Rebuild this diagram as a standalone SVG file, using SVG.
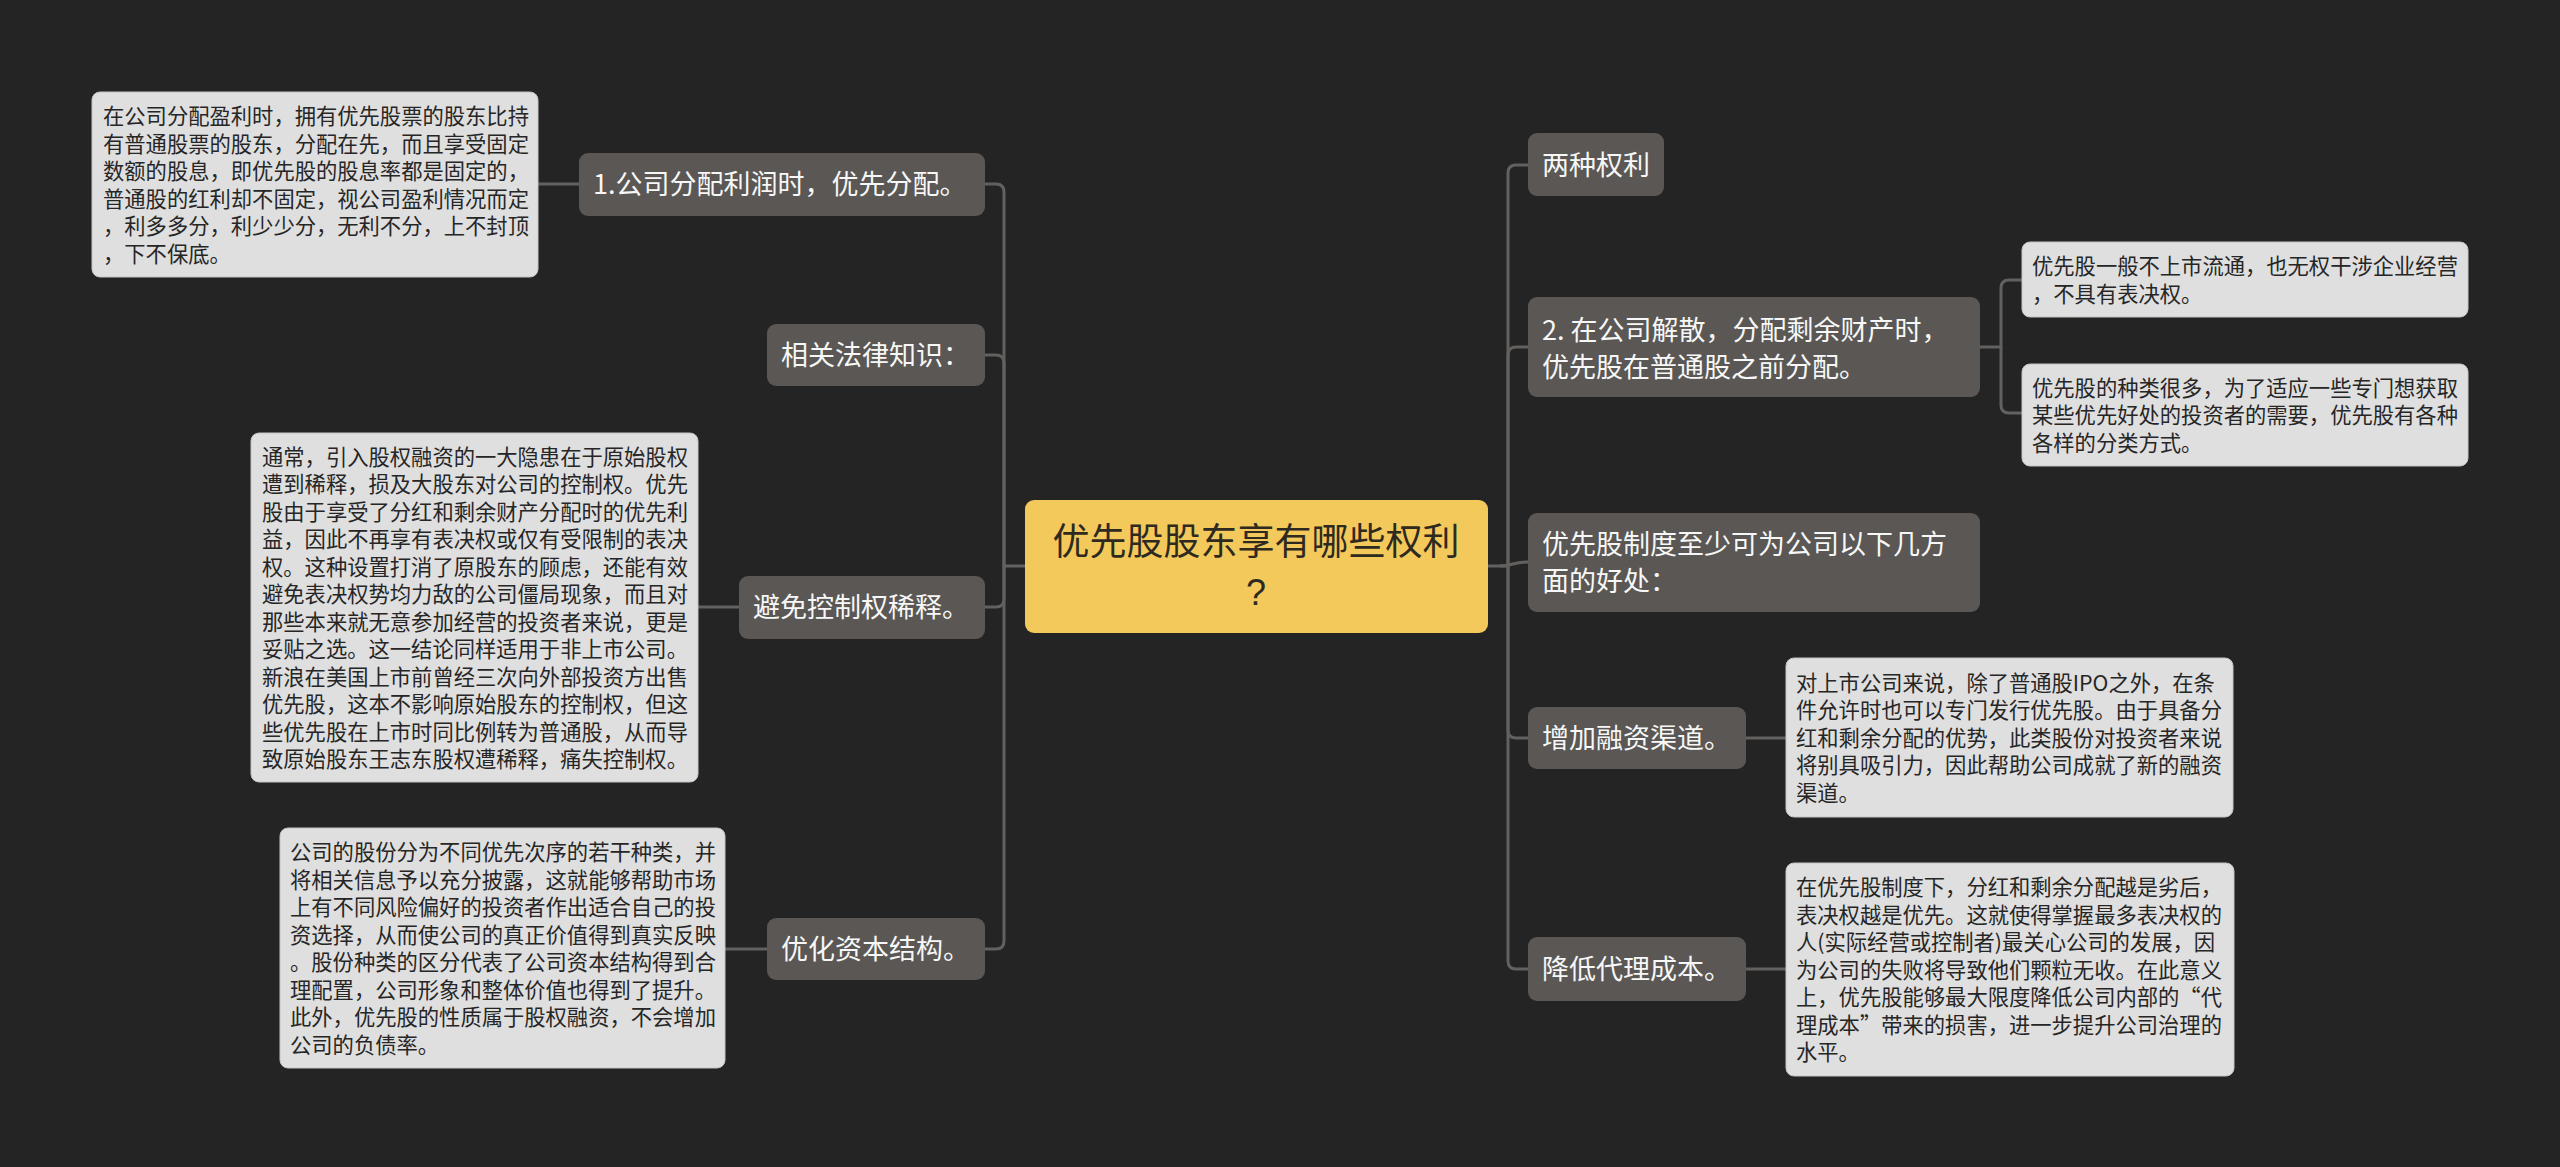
<svg xmlns="http://www.w3.org/2000/svg" width="2560" height="1167" viewBox="0 0 2560 1167">
<style>
.bg{fill:#242424}
.node rect{fill:#5a5755}
.node text{fill:#f7f7f7;font-family:"Noto Sans CJK SC","Noto Sans",sans-serif;font-size:27px}
.leaf rect{fill:#dfdfdf;stroke:#c4c4c4;stroke-width:1}
.leaf text{fill:#262626;font-family:"Noto Sans CJK SC","Noto Sans",sans-serif;font-size:21.3px}
.root rect{fill:#f4c95b}
.root text{fill:#2e2a1f;font-family:"Noto Sans CJK SC","Noto Sans",sans-serif;font-size:37px}
.root text.q{font-family:"Liberation Sans",Arial,sans-serif;font-size:36px}
.conn path{fill:none;stroke:#63615f;stroke-width:3}
</style>
<rect class="bg" x="0" y="0" width="2560" height="1167"/>
<g class="conn" id="connectors">
<path d="M1025 566 H1004 V192 Q1004 184 996 184 H985"/>
<path d="M1004 566 V363 Q1004 355 996 355 H985"/>
<path d="M1004 566 V599 Q1004 607 996 607 H985"/>
<path d="M1004 566 V941 Q1004 949 996 949 H985"/>
<path d="M1488 566 H1508 V173 Q1508 165 1516 165 H1528"/>
<path d="M1508 566 V355 Q1508 347 1516 347 H1528"/>
<path d="M1500 566 C1512 566 1512 562 1528 562"/>
<path d="M1508 566 V730 Q1508 738 1516 738 H1528"/>
<path d="M1508 566 V961 Q1508 969 1516 969 H1528"/>
<path d="M579 184 H538"/>
<path d="M739 607 H698"/>
<path d="M767 949 H725"/>
<path d="M1980 347 H2001 V288 Q2001 280 2009 280 H2022"/>
<path d="M2001 347 V405 Q2001 413 2009 413 H2022"/>
<path d="M1746 738 H1786"/>
<path d="M1746 969 H1786"/>
</g>
<g class="root" id="root">
<rect x="1025" y="500" width="463" height="133" rx="9"/>
<text x="1256" y="555" text-anchor="middle">优先股股东享有哪些权利</text>
<text class="q" x="1256" y="605" text-anchor="middle">?</text>
</g>
<g class="node" id="n1">
<rect x="579" y="153" width="406" height="63" rx="9"/>
<text x="593" y="194">1.公司分配利润时，优先分配。</text>
</g>
<g class="leaf" id="l1">
<rect x="92" y="92" width="446" height="185" rx="8"/>
<text x="103" y="124">在公司分配盈利时，拥有优先股票的股东比持</text>
<text x="103" y="151.5">有普通股票的股东，分配在先，而且享受固定</text>
<text x="103" y="179">数额的股息，即优先股的股息率都是固定的，</text>
<text x="103" y="206.5">普通股的红利却不固定，视公司盈利情况而定</text>
<text x="103" y="234">，利多多分，利少少分，无利不分，上不封顶</text>
<text x="103" y="261.5">，下不保底。</text>
</g>
<g class="node" id="n2">
<rect x="767" y="324" width="218" height="62" rx="9"/>
<text x="781" y="365">相关法律知识：</text>
</g>
<g class="node" id="n3">
<rect x="739" y="576" width="246" height="63" rx="9"/>
<text x="753" y="617">避免控制权稀释。</text>
</g>
<g class="leaf" id="l3">
<rect x="251" y="433" width="447" height="349" rx="8"/>
<text x="262" y="464.5">通常，引入股权融资的一大隐患在于原始股权</text>
<text x="262" y="492">遭到稀释，损及大股东对公司的控制权。优先</text>
<text x="262" y="519.5">股由于享受了分红和剩余财产分配时的优先利</text>
<text x="262" y="547">益，因此不再享有表决权或仅有受限制的表决</text>
<text x="262" y="574.5">权。这种设置打消了原股东的顾虑，还能有效</text>
<text x="262" y="602">避免表决权势均力敌的公司僵局现象，而且对</text>
<text x="262" y="629.5">那些本来就无意参加经营的投资者来说，更是</text>
<text x="262" y="657">妥贴之选。这一结论同样适用于非上市公司。</text>
<text x="262" y="684.5">新浪在美国上市前曾经三次向外部投资方出售</text>
<text x="262" y="712">优先股，这本不影响原始股东的控制权，但这</text>
<text x="262" y="739.5">些优先股在上市时同比例转为普通股，从而导</text>
<text x="262" y="767">致原始股东王志东股权遭稀释，痛失控制权。</text>
</g>
<g class="node" id="n4">
<rect x="767" y="918" width="218" height="62" rx="9"/>
<text x="781" y="959">优化资本结构。</text>
</g>
<g class="leaf" id="l4">
<rect x="280" y="828" width="445" height="240" rx="8"/>
<text x="290" y="860">公司的股份分为不同优先次序的若干种类，并</text>
<text x="290" y="887.5">将相关信息予以充分披露，这就能够帮助市场</text>
<text x="290" y="915">上有不同风险偏好的投资者作出适合自己的投</text>
<text x="290" y="942.5">资选择，从而使公司的真正价值得到真实反映</text>
<text x="290" y="970">。股份种类的区分代表了公司资本结构得到合</text>
<text x="290" y="997.5">理配置，公司形象和整体价值也得到了提升。</text>
<text x="290" y="1025">此外，优先股的性质属于股权融资，不会增加</text>
<text x="290" y="1052.5">公司的负债率。</text>
</g>
<g class="node" id="n5">
<rect x="1528" y="133" width="136" height="63" rx="9"/>
<text x="1542" y="175">两种权利</text>
</g>
<g class="node" id="n6">
<rect x="1528" y="297" width="452" height="100" rx="9"/>
<text><tspan x="1542" y="340">2. 在公司解散，分配剩余财产时，</tspan><tspan x="1542" y="377">优先股在普通股之前分配。</tspan></text>
</g>
<g class="leaf" id="l6a">
<rect x="2022" y="242" width="446" height="75" rx="8"/>
<text x="2032" y="274">优先股一般不上市流通，也无权干涉企业经营</text>
<text x="2032" y="301.5">，不具有表决权。</text>
</g>
<g class="leaf" id="l6b">
<rect x="2022" y="364" width="446" height="102" rx="8"/>
<text x="2032" y="395.5">优先股的种类很多，为了适应一些专门想获取</text>
<text x="2032" y="423">某些优先好处的投资者的需要，优先股有各种</text>
<text x="2032" y="450.5">各样的分类方式。</text>
</g>
<g class="node" id="n7">
<rect x="1528" y="513" width="452" height="99" rx="9"/>
<text><tspan x="1542" y="554">优先股制度至少可为公司以下几方</tspan><tspan x="1542" y="591">面的好处：</tspan></text>
</g>
<g class="node" id="n8">
<rect x="1528" y="707" width="218" height="62" rx="9"/>
<text x="1542" y="748">增加融资渠道。</text>
</g>
<g class="leaf" id="l8">
<rect x="1786" y="658" width="447" height="159" rx="8"/>
<text x="1796" y="690.5">对上市公司来说，除了普通股IPO之外，在条</text>
<text x="1796" y="718">件允许时也可以专门发行优先股。由于具备分</text>
<text x="1796" y="745.5">红和剩余分配的优势，此类股份对投资者来说</text>
<text x="1796" y="773">将别具吸引力，因此帮助公司成就了新的融资</text>
<text x="1796" y="800.5">渠道。</text>
</g>
<g class="node" id="n9">
<rect x="1528" y="937" width="218" height="64" rx="9"/>
<text x="1542" y="979">降低代理成本。</text>
</g>
<g class="leaf" id="l9">
<rect x="1786" y="863" width="448" height="213" rx="8"/>
<text x="1796" y="895">在优先股制度下，分红和剩余分配越是劣后，</text>
<text x="1796" y="922.5">表决权越是优先。这就使得掌握最多表决权的</text>
<text x="1796" y="950">人(实际经营或控制者)最关心公司的发展，因</text>
<text x="1796" y="977.5">为公司的失败将导致他们颗粒无收。在此意义</text>
<text x="1796" y="1005">上，优先股能够最大限度降低公司内部的“代</text>
<text x="1796" y="1032.5">理成本”带来的损害，进一步提升公司治理的</text>
<text x="1796" y="1060">水平。</text>
</g>
</svg>
